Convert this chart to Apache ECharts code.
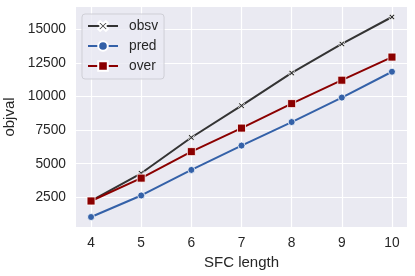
<!DOCTYPE html>
<html>
<head>
<meta charset="utf-8">
<script src="https://cdn.jsdelivr.net/npm/echarts@6/dist/echarts.min.js"></script>
<style>html,body{margin:0;padding:0;background:#fff}#c{width:415px;height:276px}</style>
</head>
<body>
<div id="c"></div>
<script>
const sfcLength = [4, 5, 6, 7, 8, 9, 10];
const obsv = [2230, 4290, 6950, 9320, 11750, 13910, 15910];
const pred = [1040, 2640, 4540, 6350, 8100, 9920, 11840];
const over = [2230, 3930, 5900, 7650, 9470, 11210, 12930];
const xTicks = [4, 5, 6, 7, 8, 9, 10];
const yTicks = [2500, 5000, 7500, 10000, 12500, 15000];

const allY = obsv.concat(pred, over);
const yLo = Math.min(...allY), yHi = Math.max(...allY);
const yPad = (yHi - yLo) * 0.05;
const xLo = Math.min(...sfcLength), xHi = Math.max(...sfcLength);
const xPad = (xHi - xLo) * 0.05;

const txt = '#262626';
const font = "'Liberation Sans', Arial, sans-serif";
const xPath = 'path://M0,2 L2,0 L5,3 L8,0 L10,2 L7,5 L10,8 L8,10 L5,7 L2,10 L0,8 L3,5 Z';

function mk(name, vals, color, symbol, size) {
  return {
    name: name, type: 'line',
    data: sfcLength.map((x, i) => [x, vals[i]]),
    symbol: symbol, symbolSize: size, showSymbol: true,
    lineStyle: { color: color, width: 2 },
    itemStyle: { color: color, borderColor: '#ffffff', borderWidth: 0.8 },
    emphasis: { disabled: true },
    animation: false
  };
}

const chart = echarts.init(document.getElementById('c'), null, { renderer: 'canvas' });
chart.setOption({
  animation: false,
  textStyle: { fontFamily: font },
  grid: { left: 76, right: 8, top: 7, bottom: 49, show: true, backgroundColor: '#EAEAF2', borderWidth: 0, containLabel: false, outerBoundsMode: 'none' },
  xAxis: {
    type: 'value', min: xLo - xPad, max: xHi + xPad,
    name: 'SFC length', nameLocation: 'middle', nameGap: 25,
    nameTextStyle: { color: txt, fontSize: 15, fontFamily: font },
    axisLine: { show: false },
    axisTick: { show: false, customValues: xTicks },
    axisLabel: { customValues: xTicks, color: txt, fontSize: 13.75, fontFamily: font, margin: 9, formatter: v => String(v) },
    splitLine: { show: true, lineStyle: { color: '#ffffff', width: 1.2 } }
  },
  yAxis: {
    type: 'value', min: yLo - yPad, max: yHi + yPad,
    name: 'objval', nameLocation: 'middle', nameGap: 49,
    nameTextStyle: { color: txt, fontSize: 15, fontFamily: font },
    axisLine: { show: false },
    axisTick: { show: false, customValues: yTicks },
    axisLabel: { customValues: yTicks, color: txt, fontSize: 13.75, fontFamily: font, margin: 10, formatter: v => String(v) },
    splitLine: { show: true, lineStyle: { color: '#ffffff', width: 1.2 } }
  },
  legend: {
    left: 82, top: 14, orient: 'vertical',
    itemWidth: 30, itemHeight: 12, itemGap: 6,
    padding: [5, 6, 6, 5],
    backgroundColor: 'rgba(234,234,242,0.8)', borderColor: '#cfcfd6', borderWidth: 1, borderRadius: 3,
    textStyle: { color: txt, fontSize: 13.75, fontFamily: font, lineHeight: 14, padding: [0, 0, 0, 6] },
    data: ['obsv', 'pred', 'over']
  },
  series: [
    mk('obsv', obsv, '#333333', xPath, 6),
    mk('pred', pred, '#3461a8', 'circle', 7),
    mk('over', over, '#8b0000', 'rect', 8)
  ]
});
</script>
</body>
</html>
